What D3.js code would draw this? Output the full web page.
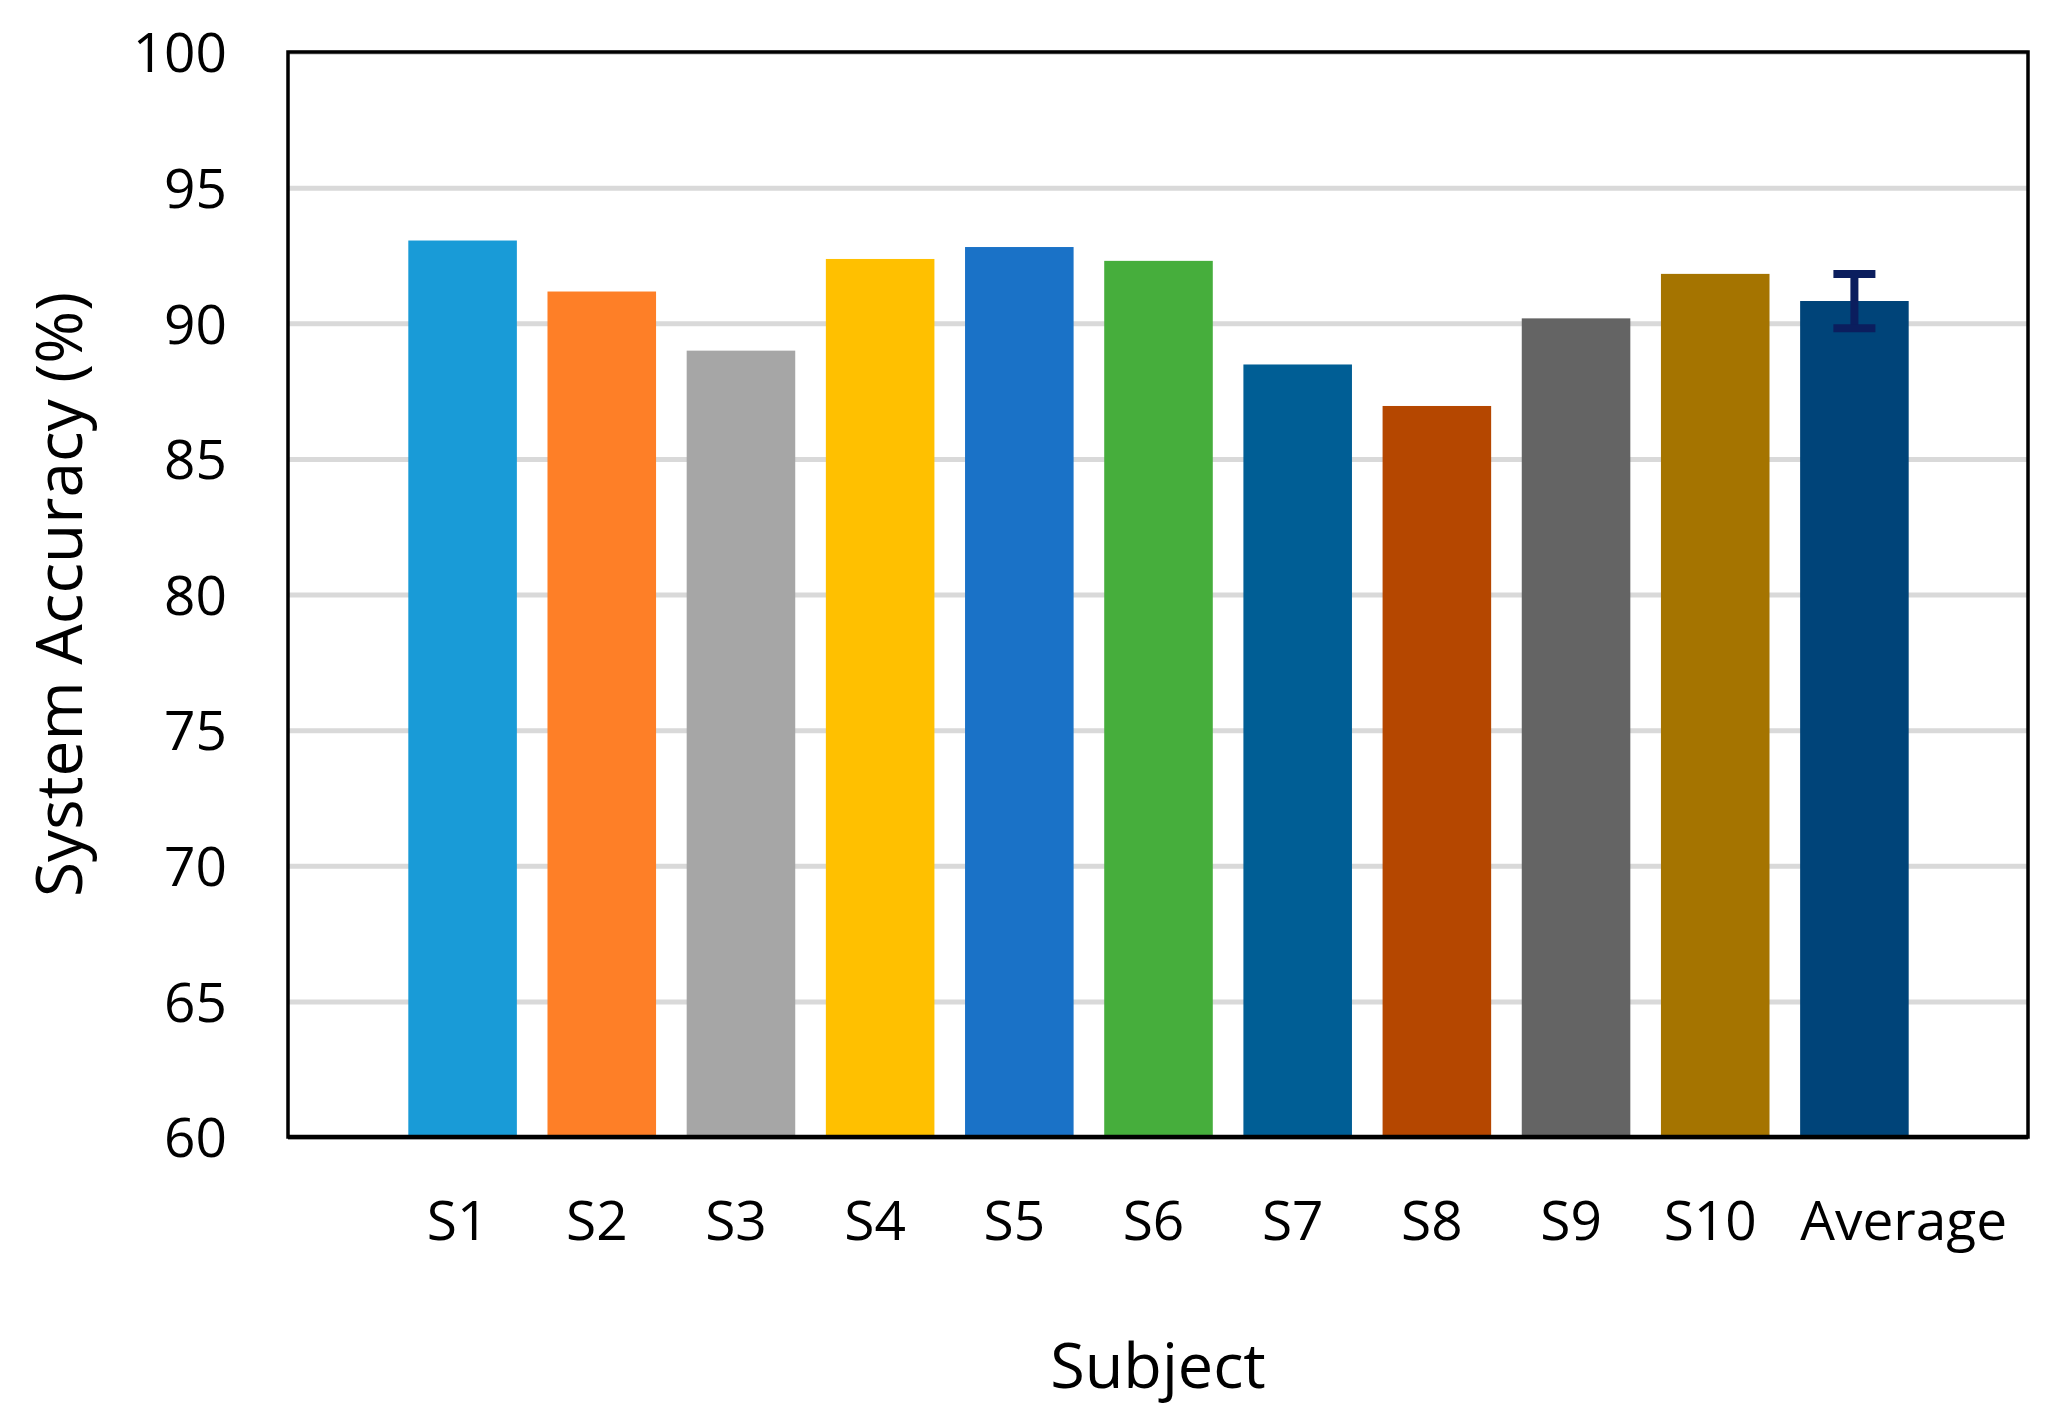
<!DOCTYPE html>
<html>
<head>
<meta charset="utf-8">
<script src="https://d3js.org/d3.v7.min.js"></script>
<style>
  body { margin: 0; background: #fff; }
  svg { display: block; font-family: 'Open Sans', 'Noto Sans', sans-serif; }
  .tick text { fill: #000; }
</style>
</head>
<body>
<div id="chart"></div>
<script>
// data
const subjects = ['S1', 'S2', 'S3', 'S4', 'S5', 'S6', 'S7', 'S8', 'S9', 'S10', 'Average']
const accuracy = [93.05, 91.17, 88.99, 92.37, 92.81, 92.3, 88.48, 86.95, 90.18, 91.82, 90.82]
const barColors = ['#199bd7', '#fe7f27', '#a6a6a6', '#ffc000', '#1a72c7', '#46ae3c',
                   '#005e95', '#b54700', '#646464', '#a57400', '#004479']
const avgError = 1.0
const yTicks = [60, 65, 70, 75, 80, 85, 90, 95, 100]

const W = 2049, H = 1427
const plot = {left: 288, top: 52, right: 2028, bottom: 1137}

const svg = d3.select('#chart').append('svg')
  .attr('width', W)
  .attr('height', H)

const y = d3.scaleLinear().domain([60, 100]).range([plot.bottom, plot.top])
const x = d3.scaleBand()
  .domain(subjects)
  .range([plot.left + 105, plot.right - 104])
  .paddingInner(0.22)
  .paddingOuter(0.11)

// gridlines
svg.append('g')
  .attr('transform', `translate(${plot.left},0)`)
  .call(d3.axisLeft(y).tickValues(yTicks).tickSize(-(plot.right - plot.left)).tickFormat(''))
  .call(g => g.select('.domain').remove())
  .selectAll('line')
  .attr('stroke', '#d9d9d9')
  .attr('stroke-width', 5)

// bars
svg.append('g').selectAll('rect')
  .data(subjects)
  .join('rect')
  .attr('x', d => x(d))
  .attr('width', x.bandwidth())
  .attr('y', (d, i) => y(accuracy[i]))
  .attr('height', (d, i) => y(60) - y(accuracy[i]))
  .attr('fill', (d, i) => barColors[i])

// error bar on the average
const avgIdx = subjects.length - 1
const ex = x(subjects[avgIdx]) + x.bandwidth() / 2
const capW = 42
const eb = svg.append('g').attr('stroke', '#0b1e5e').attr('stroke-width', 8)
eb.append('line')
  .attr('x1', ex).attr('x2', ex)
  .attr('y1', y(accuracy[avgIdx] + avgError)).attr('y2', y(accuracy[avgIdx] - avgError))
;[1, -1].forEach(s => {
  eb.append('line')
    .attr('x1', ex - capW / 2).attr('x2', ex + capW / 2)
    .attr('y1', y(accuracy[avgIdx] + s * avgError)).attr('y2', y(accuracy[avgIdx] + s * avgError))
})

// plot frame
svg.append('rect')
  .attr('x', plot.left)
  .attr('y', plot.top)
  .attr('width', plot.right - plot.left)
  .attr('height', plot.bottom - plot.top)
  .attr('fill', 'none')
  .attr('stroke', '#000')
  .attr('stroke-width', 3.5)

// y axis labels
svg.append('g')
  .attr('transform', `translate(${plot.left},0)`)
  .call(d3.axisLeft(y).tickValues(yTicks).tickSize(0).tickPadding(61))
  .call(g => g.select('.domain').remove())
  .selectAll('text')
  .attr('font-size', 55)
  .attr('font-family', "'Open Sans', sans-serif")
  .attr('dy', '0.36em')

// x axis
const xAxis = svg.append('g')
  .attr('transform', `translate(0,${plot.bottom})`)
  .call(d3.axisBottom(x).tickSize(0).tickPadding(64))
xAxis.select('.domain').remove()
xAxis.append('line')
  .attr('x1', plot.left)
  .attr('x2', plot.right)
  .attr('stroke', '#000')
  .attr('stroke-width', 4.5)
xAxis.selectAll('text')
  .attr('font-size', 55)
  .attr('font-family', "'Open Sans', sans-serif")
  .attr('dx', -5)
// the long last label starts at its bar's left edge, as in the source
xAxis.selectAll('.tick').filter(d => d === 'Average').select('text')
  .attr('text-anchor', 'start')
  .attr('dx', 0)
  .attr('x', -x.bandwidth() / 2)

// axis titles
svg.append('text')
  .attr('x', (plot.left + plot.right) / 2)
  .attr('y', 1388)
  .attr('text-anchor', 'middle')
  .attr('font-size', 63)
  .text('Subject')

svg.append('text')
  .attr('transform', `translate(82,${(plot.top + plot.bottom) / 2}) rotate(-90)`)
  .attr('text-anchor', 'middle')
  .attr('font-size', 64)
  .text('System Accuracy (%)')
</script>
</body>
</html>
